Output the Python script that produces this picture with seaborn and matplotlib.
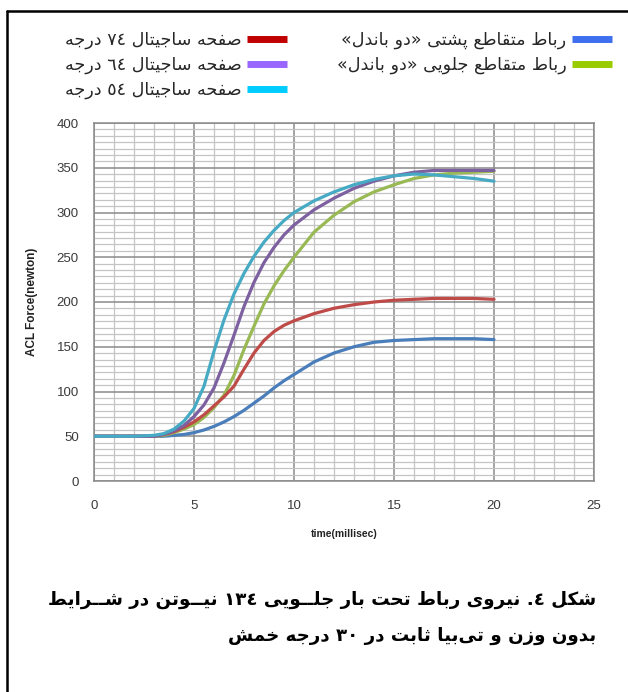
import numpy as np
import pandas as pd
import matplotlib
matplotlib.use("Agg")
import matplotlib.pyplot as plt
from matplotlib.lines import Line2D
import seaborn as sns

# ---------------- data ----------------
time_ms = [0, 1, 2, 3, 3.5, 4, 4.5, 5, 5.5, 6, 6.5, 7, 7.5, 8, 8.5, 9, 9.5, 10,
           11, 12, 13, 14, 15, 16, 17, 18, 19, 20]
posterior = [50, 50, 50, 50, 50, 51, 52, 54, 57, 61, 66, 72, 79, 87, 95, 104, 112, 119,
             133, 143, 150, 155, 157, 158, 159, 159, 159, 158]
anterior = [50, 50, 50, 50, 51, 54, 58, 63, 71, 82, 96, 118, 147, 173, 198, 218, 235, 250,
            278, 297, 312, 323, 331, 338, 342, 344, 345, 346]
sag74 = [50, 50, 50, 50, 52, 55, 60, 66, 74, 84, 94, 106, 125, 143, 157, 167, 174, 179,
         187, 193, 197, 200, 202, 203, 204, 204, 204, 203]
sag64 = [50, 50, 50, 50, 52, 56, 62, 72, 85, 104, 132, 163, 195, 222, 244, 261, 275, 286,
         303, 316, 327, 335, 341, 345, 347, 347, 347, 347]
sag54 = [50, 50, 50, 51, 53, 58, 67, 81, 106, 145, 180, 209, 232, 251, 267, 280, 291, 300,
         313, 323, 331, 337, 341, 343, 342, 340, 338, 335]

series_names = ["رباط متقاطع پشتی «دو باندل»",
                "رباط متقاطع جلویی «دو باندل»",
                "صفحه ساجیتال ٧٤ درجه",
                "صفحه ساجیتال ٦٤ درجه",
                "صفحه ساجیتال ٥٤ درجه"]
series_values = [posterior, anterior, sag74, sag64, sag54]
line_colors = ["#4A7EBB", "#98B954", "#BE4B48", "#7D60A0", "#46AAC5"]
legend_colors = ["#3F6FEF", "#99CC00", "#C00000", "#9966FF", "#00CCFF"]

x_label = "time(millisec)"
y_label = "ACL Force(newton)"
caption_lines = ["شکل ٤. نیروی رباط تحت بار جلــویی ١٣٤ نیــوتن در شــرایط",
                 "بدون وزن و تی‌بیا ثابت در ٣٠ درجه خمش"]

# ---------------- Arabic shaping for display ----------------
FORMS = {
    '\u0627': ('\uFE8D', '\uFE8E', None, None),
    '\u0628': ('\uFE8F', '\uFE90', '\uFE91', '\uFE92'),
    '\u0629': ('\uFE93', '\uFE94', None, None),
    '\u062A': ('\uFE95', '\uFE96', '\uFE97', '\uFE98'),
    '\u062B': ('\uFE99', '\uFE9A', '\uFE9B', '\uFE9C'),
    '\u062C': ('\uFE9D', '\uFE9E', '\uFE9F', '\uFEA0'),
    '\u062D': ('\uFEA1', '\uFEA2', '\uFEA3', '\uFEA4'),
    '\u062E': ('\uFEA5', '\uFEA6', '\uFEA7', '\uFEA8'),
    '\u062F': ('\uFEA9', '\uFEAA', None, None),
    '\u0630': ('\uFEAB', '\uFEAC', None, None),
    '\u0631': ('\uFEAD', '\uFEAE', None, None),
    '\u0632': ('\uFEAF', '\uFEB0', None, None),
    '\u0633': ('\uFEB1', '\uFEB2', '\uFEB3', '\uFEB4'),
    '\u0634': ('\uFEB5', '\uFEB6', '\uFEB7', '\uFEB8'),
    '\u0635': ('\uFEB9', '\uFEBA', '\uFEBB', '\uFEBC'),
    '\u0636': ('\uFEBD', '\uFEBE', '\uFEBF', '\uFEC0'),
    '\u0637': ('\uFEC1', '\uFEC2', '\uFEC3', '\uFEC4'),
    '\u0638': ('\uFEC5', '\uFEC6', '\uFEC7', '\uFEC8'),
    '\u0639': ('\uFEC9', '\uFECA', '\uFECB', '\uFECC'),
    '\u063A': ('\uFECD', '\uFECE', '\uFECF', '\uFED0'),
    '\u0641': ('\uFED1', '\uFED2', '\uFED3', '\uFED4'),
    '\u0642': ('\uFED5', '\uFED6', '\uFED7', '\uFED8'),
    '\u0643': ('\uFED9', '\uFEDA', '\uFEDB', '\uFEDC'),
    '\u0644': ('\uFEDD', '\uFEDE', '\uFEDF', '\uFEE0'),
    '\u0645': ('\uFEE1', '\uFEE2', '\uFEE3', '\uFEE4'),
    '\u0646': ('\uFEE5', '\uFEE6', '\uFEE7', '\uFEE8'),
    '\u0647': ('\uFEE9', '\uFEEA', '\uFEEB', '\uFEEC'),
    '\u0648': ('\uFEED', '\uFEEE', None, None),
    '\u0649': ('\uFEEF', '\uFEF0', None, None),
    '\u064A': ('\uFEF1', '\uFEF2', '\uFEF3', '\uFEF4'),
    '\u067E': ('\uFB56', '\uFB57', '\uFB58', '\uFB59'),
    '\u0686': ('\uFB7A', '\uFB7B', '\uFB7C', '\uFB7D'),
    '\u0698': ('\uFB8A', '\uFB8B', None, None),
    '\u06A9': ('\uFB8E', '\uFB8F', '\uFB90', '\uFB91'),
    '\u06AF': ('\uFB92', '\uFB93', '\uFB94', '\uFB95'),
    '\u06CC': ('\uFBFC', '\uFBFD', '\uFBFE', '\uFBFF'),
}
TATWEEL = '\u0640'


def _joins_next(c):
    return c == TATWEEL or (c in FORMS and FORMS[c][2] is not None)


def _is_joining(c):
    return c == TATWEEL or c in FORMS


def rtl(s):
    chars = list(s)
    shaped = []
    for i, c in enumerate(chars):
        if c not in FORMS:
            shaped.append(c)
            continue
        prev = chars[i - 1] if i > 0 else None
        nxt = chars[i + 1] if i + 1 < len(chars) else None
        cp = prev is not None and _joins_next(prev)
        cn = nxt is not None and _is_joining(nxt) and FORMS[c][2] is not None
        iso, fin, ini, med = FORMS[c]
        shaped.append(med if (cp and cn) else fin if cp else ini if cn else iso)
    shaped = [c for c in shaped if c != '\u200C']
    tokens = []
    for c in shaped:
        if '\u0660' <= c <= '\u0669' and tokens and '\u0660' <= tokens[-1][-1] <= '\u0669':
            tokens[-1] += c
        else:
            tokens.append(c)
    tokens.reverse()
    mirror = {'«': '»', '»': '«', '(': ')', ')': '('}
    return ''.join(mirror.get(t, t) for t in tokens)


# ---------------- figure ----------------
df = pd.concat([pd.DataFrame({"time": time_ms, "force": v, "series": n})
                for n, v in zip(series_names, series_values)], ignore_index=True)

sns.set_style("white")
plt.rcParams['font.family'] = ['Liberation Sans', 'DejaVu Sans']

W, H = 628, 692
fig = plt.figure(figsize=(W / 100, H / 100), dpi=100)
ax = fig.add_axes([94 / W, 1 - 481 / H, 500 / W, 358 / H])

sns.lineplot(data=df, x="time", y="force", hue="series", hue_order=series_names,
             palette=dict(zip(series_names, line_colors)), linewidth=2.3,
             legend=False, ax=ax, zorder=3)

ax.set_xlim(0, 25)
ax.set_ylim(0, 400)
ax.set_xticks(np.arange(0, 26, 5))
ax.set_xticks(np.arange(0, 26, 1), minor=True)
ax.set_yticks(np.arange(0, 401, 50))
ax.set_yticks(np.linspace(0, 400, 57), minor=True)
ax.grid(which='minor', color='#c4c4c4', linewidth=0.9, zorder=0)
ax.grid(which='major', color='#8a8a8a', linewidth=1.1, zorder=1)
ax.set_axisbelow(True)
for sp in ax.spines.values():
    sp.set_color('#8a8a8a')
    sp.set_linewidth(1.1)
ax.tick_params(which='major', length=4, width=1, color='#8a8a8a', labelsize=9.5,
               labelcolor='#3a3a3a', pad=5)
ax.tick_params(which='minor', length=0)
ax.tick_params(axis='y', pad=7)
ax.tick_params(axis='x', pad=10)

ax.set_xlabel(x_label, fontsize=7.5, fontweight='bold', color='#222222', labelpad=12)
ax.set_ylabel(y_label, fontsize=8.5, fontweight='bold', color='#222222', labelpad=13)

# legends (two columns, right-to-left)
ar_font = ['DejaVu Sans']
right_handles = [Line2D([], [], color=legend_colors[i], linewidth=5, solid_capstyle='butt')
                 for i in (0, 1)]
left_handles = [Line2D([], [], color=legend_colors[i], linewidth=5, solid_capstyle='butt')
                for i in (2, 3, 4)]
leg_kw = dict(frameon=False, markerfirst=False, handlelength=2.3, handletextpad=0.3,
              labelspacing=0.38, borderaxespad=0, borderpad=0,
              prop={'family': ar_font, 'size': 12.6})
fig.legend(right_handles, [rtl(series_names[i]) for i in (0, 1)],
           loc='upper right', bbox_to_anchor=(612 / W, 1 - 31 / H), **leg_kw)
fig.legend(left_handles, [rtl(series_names[i]) for i in (2, 3, 4)],
           loc='upper right', bbox_to_anchor=(287 / W, 1 - 31 / H), **leg_kw)

# caption
fig.text(596 / W, 1 - 600 / H, rtl(caption_lines[0]), ha='right', va='center',
         fontsize=13.15, fontweight='bold', family=ar_font, color='black')
fig.text(596 / W, 1 - 636 / H, rtl(caption_lines[1]), ha='right', va='center',
         fontsize=13.15, fontweight='bold', family=ar_font, color='black')

# frame (top and left edges of the figure box)
fig.add_artist(Line2D([7 / W, 7 / W], [0, 1 - 11 / H], transform=fig.transFigure,
                      color='black', linewidth=1.8))
fig.add_artist(Line2D([7 / W, 1], [1 - 11 / H, 1 - 11 / H], transform=fig.transFigure,
                      color='black', linewidth=1.8))

fig.savefig("out.png", dpi=100, facecolor='white')
